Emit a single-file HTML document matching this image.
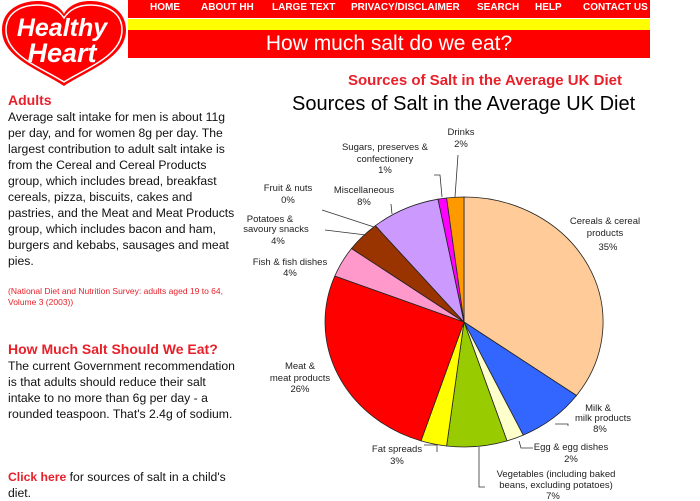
<!DOCTYPE html>
<html><head><style>
body{margin:0;width:700px;height:500px;background:#fff;font-family:"Liberation Sans",Arial,sans-serif;position:relative;overflow:hidden}
.a{position:absolute;white-space:nowrap}
.nav{left:128px;top:0;width:522px;height:18px;background:#f00;color:#fff;font-size:10px;font-weight:bold}
.nav span{position:absolute;top:2px}
.body{font-size:12.2px;line-height:16px;color:#111}
</style></head><body>
<div class="a nav"><span style="left:22px">HOME</span><span style="left:73px">ABOUT HH</span><span style="left:144px">LARGE TEXT</span><span style="left:223px">PRIVACY/DISCLAIMER</span><span style="left:349px">SEARCH</span><span style="left:407px">HELP</span><span style="left:455px">CONTACT US</span></div>
<div class="a" style="left:128px;top:19px;width:522px;height:20px;background:#ff0"></div>
<div class="a" style="left:128px;top:30px;width:522px;height:28px;background:#f00;color:#fff;font-size:21px;text-align:center;line-height:28px">How much salt do we eat?</div>
<svg class="a" style="left:0;top:0" width="128" height="115" viewBox="0 0 128 115">
<path d="M64 86 C40 70 2 58 2 30 C2 10 20 1 38 1 C50 1 60 6 64 14 C68 6 78 1 90 1 C108 1 126 10 126 30 C126 58 88 70 64 86Z" fill="#f00"/>
<path d="M64 82 C42 68 6 56 6 30 C6 12 22 5 38 5 C50 5 59 10 64 18 C69 10 78 5 90 5 C106 5 122 12 122 30 C122 56 86 68 64 82Z" fill="none" stroke="#fff" stroke-width="1.5"/>
<text x="62" y="36" fill="#fff" font-size="25" font-weight="bold" font-style="italic" text-anchor="middle" font-family="Liberation Sans,sans-serif">Healthy</text>
<text x="62" y="62" fill="#fff" font-size="27" font-weight="bold" font-style="italic" text-anchor="middle" font-family="Liberation Sans,sans-serif">Heart</text>
</svg>
<div class="a" style="left:8px;top:92px;color:#e8202a;font-size:14px;font-weight:bold">Adults</div>
<div class="a body" style="left:8px;top:109px">Average salt intake for men is about 11g<br>per day, and for women 8g per day. The<br>largest contribution to adult salt intake is<br>from the Cereal and Cereal Products<br>group, which includes bread, breakfast<br>cereals, pizza, biscuits, cakes and<br>pastries, and the Meat and Meat Products<br>group, which includes bacon and ham,<br>burgers and kebabs, sausages and meat<br>pies.</div>
<div class="a" style="left:8px;top:286px;color:#e8202a;font-size:8.5px;line-height:11px">(National Diet and Nutrition Survey: adults aged 19 to 64,<br>Volume 3 (2003))</div>
<div class="a" style="left:8px;top:341px;color:#e8202a;font-size:14px;font-weight:bold">How Much Salt Should We Eat?</div>
<div class="a body" style="left:8px;top:358px">The current Government recommendation<br>is that adults should reduce their salt<br>intake to no more than 6g per day - a<br>rounded teaspoon. That's 2.4g of sodium.</div>
<div class="a body" style="left:8px;top:469px"><b style="color:#e8202a">Click here</b> for sources of salt in a child's<br>diet.</div>
<div class="a" style="left:348px;top:72px;color:#e8202a;font-size:15px;font-weight:bold">Sources of Salt in the Average UK Diet</div>
<div class="a" style="left:292px;top:93px;color:#000;font-size:20px">Sources of Salt in the Average UK Diet</div>
<svg class="a" style="left:0;top:0" width="700" height="500" font-family="Liberation Sans,sans-serif" font-size="9.5" fill="#222">
<g id="sl"></g>
<g stroke="#333" stroke-width="0.8" fill="none">
<polyline points="555,424 568,424 568,426"/>
<polyline points="519,441 521,448 533,448"/>
<polyline points="479,447 479,487 485,487"/>
<polyline points="424,445 437,445 437,452"/>
<polyline points="392,214 391,204"/>
<polyline points="374,227 322,210"/>
<polyline points="366,235 325,230"/>
<polyline points="442,197 440,175 434,175"/>
<polyline points="455,197 458,155"/>
</g>
<g text-anchor="middle">
<text x="461" y="135">Drinks</text><text x="461" y="147">2%</text>
<text x="385" y="150">Sugars, preserves &amp;</text><text x="385" y="162">confectionery</text><text x="385" y="173">1%</text>
<text x="288" y="191">Fruit &amp; nuts</text><text x="288" y="203">0%</text>
<text x="364" y="193">Miscellaneous</text><text x="364" y="205">8%</text>
<text x="270" y="222">Potatoes &amp;</text><text x="276" y="232">savoury snacks</text><text x="278" y="244">4%</text>
<text x="290" y="265">Fish &amp; fish dishes</text><text x="290" y="276">4%</text>
<text x="605" y="224">Cereals &amp; cereal</text><text x="605" y="236">products</text><text x="608" y="250">35%</text>
<text x="300" y="369">Meat &amp;</text><text x="300" y="381">meat products</text><text x="300" y="392">26%</text>
<text x="598" y="411">Milk &amp;</text><text x="603" y="421">milk products</text><text x="600" y="432">8%</text>
<text x="571" y="450">Egg &amp; egg dishes</text><text x="571" y="462">2%</text>
<text x="397" y="452">Fat spreads</text><text x="397" y="464">3%</text>
<text x="556" y="477">Vegetables (including baked</text><text x="556" y="488">beans, excluding potatoes)</text><text x="553" y="499">7%</text>
</g>
</svg>
<script>
var cx=464,cy=322,rx=139,ry=125;
var d=[[35,"#FFCC99"],[8,"#3366FF"],[2,"#FFFFCC"],[7,"#99CC00"],[3,"#FFFF00"],[26,"#FF0000"],[4,"#FF99CC"],[4,"#993300"],[0,"#fff"],[8,"#CC99FF"],[1,"#FF00FF"],[2,"#FF9900"]];
var a=0,s="";
function pt(p){var t=p/100*2*Math.PI;return [cx+rx*Math.sin(t),cy-ry*Math.cos(t)];}
d.forEach(function(e){if(!e[0])return;var p0=pt(a);a+=e[0];var p1=pt(Math.min(a,100));
s+='<path d="M'+cx+','+cy+' L'+p0[0].toFixed(1)+','+p0[1].toFixed(1)+' A'+rx+','+ry+' 0 '+(e[0]>50?1:0)+' 1 '+p1[0].toFixed(1)+','+p1[1].toFixed(1)+' Z" fill="'+e[1]+'" stroke="#222" stroke-width="0.8"/>';});
document.getElementById("sl").innerHTML=s;
</script>
</body></html>
